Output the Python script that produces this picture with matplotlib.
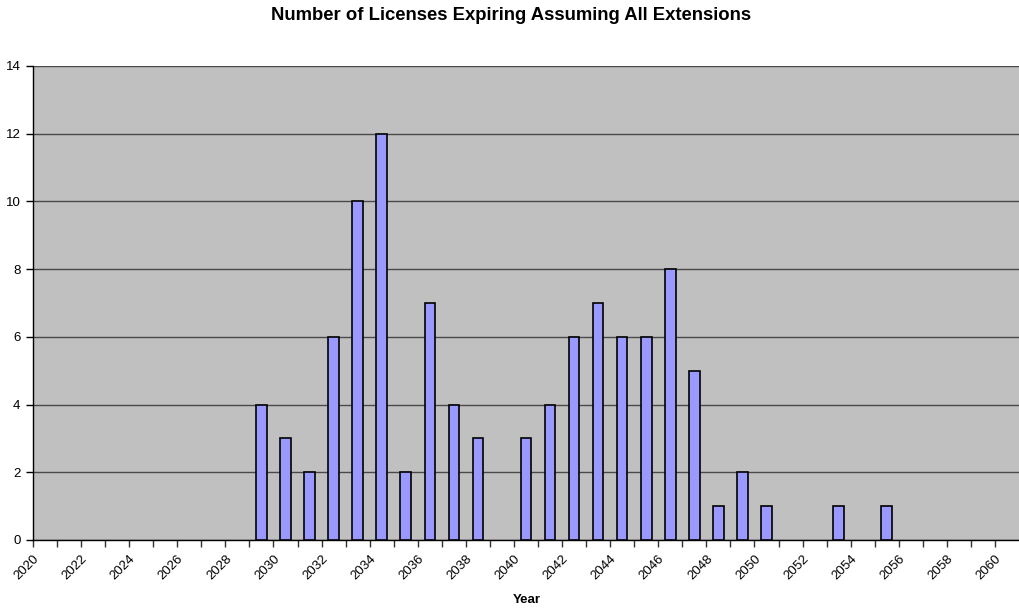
import matplotlib
matplotlib.use("Agg")
import matplotlib.pyplot as plt
import numpy as np

plt.rcParams['font.family'] = ['Liberation Sans', 'DejaVu Sans']

# Licence expiry years (one category per year) and counts expiring
years = list(range(2020, 2061))
counts = [0, 0, 0, 0, 0, 0, 0, 0, 0,
          4, 3, 2, 6, 10, 12, 2, 7, 4, 3, 0,
          3, 4, 6, 7, 6, 6, 8, 5, 1, 2, 1, 0, 0, 1, 0, 1,
          0, 0, 0, 0, 0]
y_ticks = [0, 2, 4, 6, 8, 10, 12, 14]

title = "Number of Licenses Expiring Assuming All Extensions"
x_title = "Year"

fig = plt.figure(figsize=(10.2, 6.12), dpi=100)
ax = fig.add_axes([33 / 1020, 1 - 540 / 612, 986 / 1020, 474 / 612])

ax.set_facecolor('#C0C0C0')

idx = np.arange(len(years))
vals = np.array(counts)
mask = vals > 0
ax.bar(idx[mask], vals[mask], width=0.44, color='#9999FF',
       edgecolor='black', linewidth=1.2, zorder=3)

ax.set_xlim(-0.5, len(years) - 0.5)
ax.set_ylim(0, 14)
ax.set_yticks(y_ticks)
ax.yaxis.grid(True, color='#4a4a4a', linewidth=1.0, zorder=1)
ax.set_axisbelow(True)

# Category boundaries carry the tick marks; every other year is labelled
bounds = idx - 0.5
labels = [str(y) if (y - years[0]) % 2 == 0 else '' for y in years]
ax.set_xticks(bounds)
ax.set_xticklabels(labels, rotation=45, ha='right', va='top',
                   rotation_mode='anchor', fontsize=9.5)
ax.tick_params(axis='x', length=5, width=1, color='#333333', pad=4.5)
ax.tick_params(axis='y', length=5, width=1, color='black', labelsize=9.5, pad=4)

for side in ('top', 'right'):
    ax.spines[side].set_visible(False)
ax.spines['left'].set_color('black')
ax.spines['bottom'].set_color('black')
ax.spines['left'].set_linewidth(1.0)
ax.spines['bottom'].set_linewidth(1.0)

fig.text(511 / 1020, 1 - 16 / 612, title, ha='center', va='center',
         fontsize=13.3, fontweight='bold')
fig.text(527 / 1020, 1 - 600 / 612, x_title, ha='center', va='center',
         fontsize=9.5, fontweight='bold')

fig.savefig('out.png', dpi=100)
